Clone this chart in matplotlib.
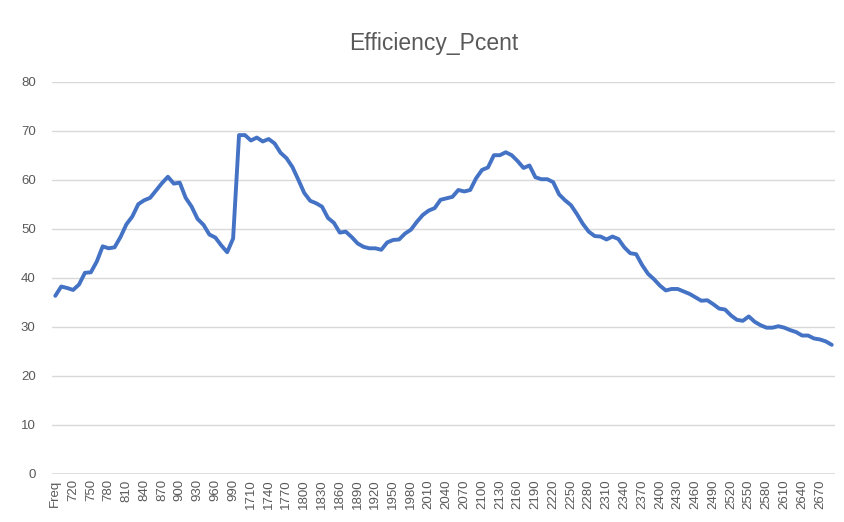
import matplotlib
matplotlib.use("Agg")
import matplotlib.pyplot as plt
import numpy as np

categories = (["Freq"] + [str(f) for f in range(700, 1001, 10)]
              + [str(f) for f in range(1700, 2691, 10)])

efficiency = [
    36.3, 38.2, 37.9, 37.5, 38.6, 41.0, 41.1, 43.3, 46.4, 46.0,
    46.2, 48.3, 50.9, 52.5, 55.0, 55.8, 56.3, 57.8, 59.3, 60.6,
    59.2, 59.4, 56.3, 54.5, 52.0, 50.8, 48.8, 48.2, 46.6, 45.2,
    48.0, 69.1, 69.1, 68.0, 68.6, 67.8, 68.3, 67.4, 65.5, 64.4,
    62.6, 60.0, 57.3, 55.7, 55.2, 54.5, 52.2, 51.2, 49.2, 49.4,
    48.3, 47.0, 46.3, 46.0, 46.0, 45.7, 47.2, 47.7, 47.8, 49.0,
    49.8, 51.4, 52.8, 53.7, 54.2, 55.9, 56.2, 56.5, 57.9, 57.6,
    57.9, 60.3, 62.0, 62.5, 65.0, 65.0, 65.6, 65.0, 63.8, 62.4,
    62.9, 60.5, 60.1, 60.1, 59.5, 57.0, 55.8, 54.8, 53.0, 51.0,
    49.4, 48.5, 48.4, 47.8, 48.4, 47.9, 46.2, 45.0, 44.8, 42.6,
    40.8, 39.7, 38.4, 37.4, 37.7, 37.7, 37.2, 36.7, 36.0, 35.3,
    35.4, 34.6, 33.7, 33.5, 32.3, 31.4, 31.2, 32.1, 31.0, 30.3,
    29.8, 29.8, 30.1, 29.8, 29.3, 28.9, 28.2, 28.2, 27.6, 27.4,
    27.0, 26.3,
]

yticks = [0, 10, 20, 30, 40, 50, 60, 70, 80]
title = "Efficiency_Pcent"

plt.rcParams['font.family'] = ['Liberation Sans', 'DejaVu Sans']
text_color = "#595959"

fig = plt.figure(figsize=(8.44, 5.22), dpi=100)
ax = fig.add_axes([0.062, 0.0925, 0.927, 0.751])

x = np.arange(len(categories))
ax.plot(x, efficiency, color="#4472C4", linewidth=2.8, solid_joinstyle="round",
        solid_capstyle="round", zorder=3)

ax.set_xlim(-0.5, len(categories) - 0.5)
ax.set_ylim(0, 80)
ax.set_yticks(yticks)
ax.set_yticklabels([str(v) for v in yticks])
ax.set_xticks(x[::3])
ax.set_xticklabels(categories[::3], rotation=90)

ax.grid(axis="y", color="#d9d9d9", linewidth=1.0)
ax.set_axisbelow(True)
for s in ax.spines.values():
    s.set_visible(False)
ax.axhline(0, color="#d9d9d9", linewidth=1.2, zorder=1)
ax.tick_params(axis="both", length=0, colors=text_color, labelsize=9.5)
ax.tick_params(axis="y", pad=12)
ax.tick_params(axis="x", pad=4)

fig.text(0.514, 0.916, title, ha="center", va="center", fontsize=16.5,
         color=text_color)

fig.savefig("out.png", dpi=100)
